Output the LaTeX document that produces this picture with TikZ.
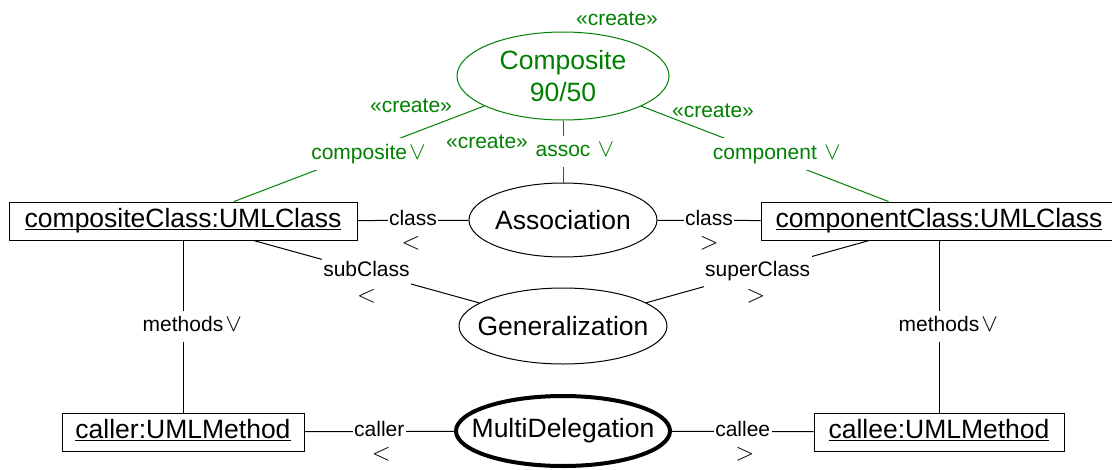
\documentclass[tikz,border=0pt]{standalone}
\usepackage{fontspec}
\setmainfont{Liberation Sans}
\usetikzlibrary{shapes.geometric}
\definecolor{ocl}{RGB}{0,128,0}

% object names are underlined just below the baseline
\newcommand\umlname[1]{\setbox0=\hbox{#1}\rlap{\rule[-2.6pt]{\wd0}{1pt}}\box0}

\tikzset{
  big/.style={font=\fontsize{26.5}{32}\selectfont},
  small/.style={font=\fontsize{21}{24}\selectfont},
  lbl/.style={small, fill=white, inner xsep=1.5pt, inner ysep=6pt,
              text height=15pt, text depth=4.5pt},
  objbox/.style={draw, line width=1pt, big, inner xsep=0pt, minimum height=38pt,
                 text height=19pt, text depth=5.5pt},
  usecase/.style={ellipse, draw, line width=1pt, inner sep=0pt},
  casename/.style={big, inner sep=0pt, align=center},
  vmark/.style={font=\fontsize{24}{24}\selectfont, inner sep=0pt, anchor=base west},
  hmark/.style={font=\fontsize{34}{34}\selectfont, inner sep=0pt},
  stereo/.style={small, text=ocl, inner sep=0pt},
  link/.style={line width=1pt},
  greenlink/.style={line width=1pt, draw=ocl},
}

\begin{document}
\begin{tikzpicture}[x=1pt,y=-1pt]
\useasboundingbox (0,0) rectangle (1112,469);

% collaborations: fixed-size ellipses with their names centred inside
\node[usecase, draw=ocl, minimum width=212pt, minimum height=88pt,
      label={[casename, text=ocl]center:Composite\\90/50}] (comp) at (563,76) {};
\node[usecase, minimum width=188pt, minimum height=74pt,
      label={[casename]center:Association}] (assoc) at (563,220) {};
\node[usecase, minimum width=208pt, minimum height=76pt,
      label={[casename]center:Generalization}] (gen) at (563,326) {};
\node[usecase, line width=4pt, minimum width=214pt, minimum height=70pt,
      label={[casename]center:MultiDelegation}] (md) at (563,431) {};

% objects
\node[objbox, minimum width=348pt] (cc) at (183,221) {\umlname{compositeClass:UMLClass}};
\node[objbox, minimum width=356pt] (pc) at (939,221) {\umlname{componentClass:UMLClass}};
\node[objbox, minimum width=242pt] (caller) at (183,432) {\umlname{caller:UMLMethod}};
\node[objbox, minimum width=250pt] (callee) at (939,432) {\umlname{callee:UMLMethod}};

% stereotypes
\node[stereo] (stcomp) at (617,19) {«create»};
\node[stereo] (stleft) at (411,106) {«create»};
\node[stereo] (stmid) at (487,142) {«create»};
\node[stereo] (stright) at (713,111) {«create»};

% role links
\draw[greenlink] (comp) -- node[lbl, text=ocl] (lcomposite) {composite} (cc);
\draw[greenlink] (comp) -- node[lbl, text=ocl] (lassoc) {assoc} (assoc);
\draw[greenlink] (comp) -- node[lbl, text=ocl] (lcomponent) {component} (pc);
\draw[link] (cc) -- node[lbl] (lclassa) {class} (assoc);
\draw[link] (assoc) -- node[lbl] (lclassb) {class} (pc);
\draw[link] (cc) -- node[lbl] (lsub) {subClass} (gen);
\draw[link] (gen) -- node[lbl] (lsuper) {superClass} (pc);
\draw[link] (cc) -- node[lbl] (lmetha) {methods} (caller);
\draw[link] (pc) -- node[lbl] (lmethb) {methods} (callee);
\draw[link] (caller) -- node[lbl] (lcaller) {caller} (md);
\draw[link] (md) -- node[lbl] (lcallee) {callee} (callee);

% reading directions
\node[vmark, text=ocl] (vcomposite) at (lcomposite.base east) {$\vee$};
\node[vmark, text=ocl] (vassoc) at ([xshift=5pt]lassoc.base east) {$\vee$};
\node[vmark, text=ocl] (vcomponent) at ([xshift=5pt]lcomponent.base east) {$\vee$};
\node[vmark] (vmetha) at (lmetha.base east) {$\vee$};
\node[vmark] (vmethb) at (lmethb.base east) {$\vee$};
\node[hmark] (dclassa) at ([xshift=-2pt,yshift=-23pt]lclassa.center) {$<$};
\node[hmark] (dclassb) at ([yshift=-23pt]lclassb.center) {$>$};
\node[hmark] (dsub) at ([yshift=-25pt]lsub.center) {$<$};
\node[hmark] (dsuper) at ([xshift=-2pt,yshift=-25pt]lsuper.center) {$>$};
\node[hmark] (dcaller) at ([xshift=2pt,yshift=-23pt]lcaller.center) {$<$};
\node[hmark] (dcallee) at ([xshift=2pt,yshift=-23pt]lcallee.center) {$>$};
\end{tikzpicture}
\end{document}
